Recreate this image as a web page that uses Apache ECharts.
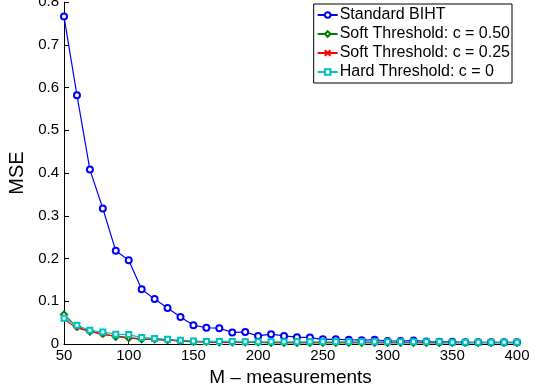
<!DOCTYPE html>
<html>
<head>
<meta charset="utf-8">
<script src="https://cdn.jsdelivr.net/npm/echarts@6/dist/echarts.min.js"></script>
<style>
  html, body { margin: 0; padding: 0; background: #fff; }
  #chart { width: 542px; height: 388px; }
</style>
</head>
<body>
<div id="chart"></div>
<script>
const measurements = [50, 60, 70, 80, 90, 100, 110, 120, 130, 140, 150, 160, 170, 180, 190, 200,
  210, 220, 230, 240, 250, 260, 270, 280, 290, 300, 310, 320, 330, 340, 350, 360, 370, 380, 390, 400];

const standardBiht = [0.766, 0.582, 0.408, 0.317, 0.218, 0.196, 0.128, 0.105, 0.084, 0.063, 0.044, 0.038,
  0.037, 0.027, 0.028, 0.019, 0.023, 0.019, 0.016, 0.015, 0.011, 0.011, 0.010, 0.009, 0.010, 0.007,
  0.007, 0.008, 0.006, 0.005, 0.005, 0.004, 0.004, 0.004, 0.004, 0.004];
const soft050 = [0.069, 0.040, 0.029, 0.024, 0.017, 0.014, 0.011, 0.011, 0.009, 0.007, 0.005, 0.005,
  0.004, 0.004, 0.004, 0.004, 0.003, 0.003, 0.003, 0.003, 0.003, 0.003, 0.003, 0.003, 0.003, 0.003,
  0.003, 0.003, 0.003, 0.003, 0.003, 0.003, 0.003, 0.003, 0.003, 0.003];
const soft025 = [0.058, 0.037, 0.030, 0.022, 0.019, 0.015, 0.012, 0.011, 0.009, 0.007, 0.006, 0.005,
  0.004, 0.004, 0.004, 0.004, 0.003, 0.003, 0.003, 0.003, 0.003, 0.003, 0.003, 0.003, 0.003, 0.003,
  0.003, 0.003, 0.003, 0.003, 0.003, 0.003, 0.003, 0.003, 0.003, 0.003];
const hard0 = [0.060, 0.044, 0.032, 0.028, 0.023, 0.022, 0.015, 0.013, 0.011, 0.009, 0.007, 0.006,
  0.006, 0.006, 0.005, 0.005, 0.005, 0.005, 0.005, 0.005, 0.005, 0.005, 0.005, 0.005, 0.005, 0.005,
  0.005, 0.005, 0.005, 0.005, 0.004, 0.004, 0.004, 0.004, 0.004, 0.004];

const seriesNames = ['Standard BIHT', 'Soft Threshold: c = 0.50', 'Soft Threshold: c = 0.25', 'Hard Threshold: c = 0'];

const font = 'Liberation Sans, Arial, sans-serif';
const pairs = (vals) => measurements.map((m, i) => [m, vals[i]]);

function makeLine(name, vals, color, symbol, size) {
  return {
    name: name,
    type: 'line',
    data: pairs(vals),
    symbol: symbol,
    symbolSize: size,
    showAllSymbol: true,
    lineStyle: { color: color, width: 1.2 },
    itemStyle: { color: color, borderColor: color, borderWidth: 1 },
    emphasis: { disabled: true },
    animation: false
  };
}

const chart = echarts.init(document.getElementById('chart'));
chart.setOption({
  animation: false,
  grid: { left: 64, right: 25, top: 2, bottom: 44, outerBoundsMode: 'none' },
  legend: {
    orient: 'vertical',
    right: 30,
    top: 4,
    itemWidth: 20,
    itemHeight: 7,
    itemGap: 3,
    padding: [3, 2, 3, 3],
    borderColor: '#000',
    borderWidth: 1,
    backgroundColor: '#fff',
    textStyle: { fontFamily: font, fontSize: 16, color: '#000', padding: [0, 0, 0, -3] },
    data: seriesNames
  },
  xAxis: {
    type: 'value',
    min: 50,
    max: 400,
    interval: 50,
    name: 'M \u2013 measurements',
    nameLocation: 'middle',
    nameGap: 21,
    nameTextStyle: { fontFamily: font, fontSize: 19, color: '#000' },
    axisLine: { lineStyle: { color: '#000', width: 1 } },
    axisTick: { inside: true, length: 5, lineStyle: { color: '#000' } },
    axisLabel: { fontFamily: font, fontSize: 15, color: '#000', margin: 4 },
    splitLine: { show: false }
  },
  yAxis: {
    type: 'value',
    min: 0,
    max: 0.8,
    interval: 0.1,
    name: 'MSE',
    nameLocation: 'middle',
    nameGap: 29,
    nameTextStyle: { fontFamily: font, fontSize: 20, color: '#000' },
    axisLine: { show: true, lineStyle: { color: '#000', width: 1 } },
    axisTick: { show: true, inside: true, length: 5, lineStyle: { color: '#000' } },
    axisLabel: { fontFamily: font, fontSize: 15, color: '#000', margin: 5 },
    splitLine: { show: false }
  },
  series: [
    makeLine(seriesNames[0], standardBiht, '#0000ff', 'emptyCircle', 6),
    makeLine(seriesNames[1], soft050, '#008000', 'emptyDiamond', 6),
    makeLine(seriesNames[2], soft025, '#ff0000', 'path://M0,0L10,10M10,0L0,10', 4),
    makeLine(seriesNames[3], hard0, '#00bfbf', 'emptyRect', 5)
  ]
});
</script>
</body>
</html>
